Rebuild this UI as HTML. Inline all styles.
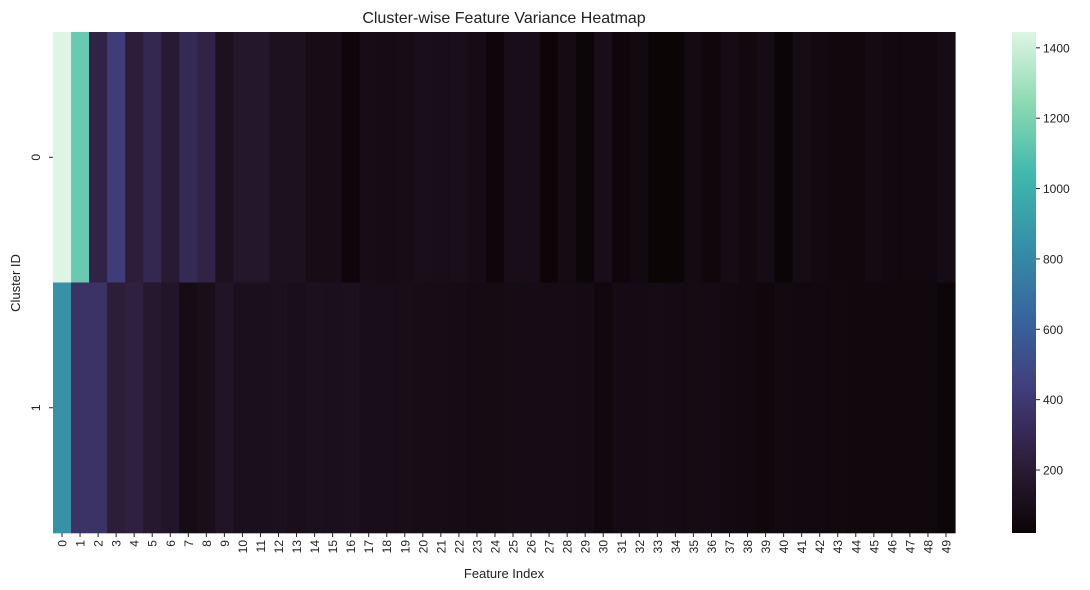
<!DOCTYPE html>
<html><head><meta charset="utf-8"><style>
html,body{margin:0;padding:0;background:#fff;}
svg{display:block;font-family:"Liberation Sans","DejaVu Sans",sans-serif;}
</style></head><body>
<svg id="chart" width="1090" height="590" viewBox="0 0 1090 590">
<defs>
<linearGradient id="cbgrad" x1="0" y1="1" x2="0" y2="0">
<stop offset="0" stop-color="#0b0405"/><stop offset="0.143" stop-color="#2e1e3b"/><stop offset="0.286" stop-color="#413d7b"/><stop offset="0.429" stop-color="#37659e"/><stop offset="0.571" stop-color="#348fa7"/><stop offset="0.714" stop-color="#40b7ad"/><stop offset="0.857" stop-color="#8bdab2"/><stop offset="1" stop-color="#def5e5"/>
</linearGradient>
</defs>
<text x="504" y="23" text-anchor="middle" font-size="16" fill="#222">Cluster-wise Feature Variance Heatmap</text>
<g id="cells"></g>
<g id="xticks"></g>
<g id="yticks"></g>
<text x="504" y="578" text-anchor="middle" font-size="13" fill="#222">Feature Index</text>
<text transform="translate(20,283) rotate(-90)" text-anchor="middle" font-size="13" fill="#222">Cluster ID</text>
<rect x="1012" y="32" width="24" height="501" fill="url(#cbgrad)"/>
<g id="cbticks"></g>
</svg>
<script>
const clusters = ["0","1"];
const features = Array.from({length:50},(_,i)=>String(i));
const row0 = [1445,1146,260,420,220,290,190,305,260,120,165,165,120,120,90,90,40,90,85,90,100,95,100,80,40,95,95,30,75,35,95,38,65,25,25,70,45,80,60,80,28,82,68,55,50,70,58,62,62,82];
const row1 = [847,360,360,215,240,180,155,85,100,150,110,110,115,100,112,108,118,95,95,95,90,88,82,78,75,82,80,82,82,78,50,76,76,80,76,73,76,66,62,48,65,58,58,60,52,52,52,52,52,35];
const values = [row0,row1];
const cbTicks = [200,400,600,800,1000,1200,1400];
const vmin = 21, vmax = 1445;

const NS="http://www.w3.org/2000/svg";
const X0=53, X1=955, Y0=32, Y1=533;
const cw=(X1-X0)/features.length, rh=(Y1-Y0)/clusters.length;
const xPos=i=>X0+i*cw, yPos=j=>Y0+j*rh;
const cbY=v=>533-(v-vmin)/(vmax-vmin)*501;
const stops=[[0,[11,4,5]],[0.143,[46,30,59]],[0.286,[65,61,123]],[0.429,[55,101,158]],[0.571,[52,143,167]],[0.714,[64,183,173]],[0.857,[139,218,178]],[1,[222,245,229]]];
function mako(v){let t=Math.max(0,Math.min(1,(v-vmin)/(vmax-vmin)));
 for(let k=1;k<stops.length;k++){if(t<=stops[k][0]){const a=stops[k-1],b=stops[k],f=(t-a[0])/(b[0]-a[0]);
 return "rgb("+a[1].map((c,i)=>Math.round(c+(b[1][i]-c)*f)).join(",")+")";}}return "rgb(222,245,229)";}
function mk(tag,attrs,parent){const e=document.createElementNS(NS,tag);for(const k in attrs)e.setAttribute(k,attrs[k]);parent.appendChild(e);return e;}
const cells=document.getElementById("cells");
values.forEach((row,j)=>row.forEach((v,i)=>{
 const r=mk("rect",{x:xPos(i),y:yPos(j),width:cw+0.6,height:rh+0.3,fill:mako(v)},cells);
 
 
}));
const xt=document.getElementById("xticks");
features.forEach((f,i)=>{const cx=xPos(i)+cw/2;
 const l=mk("line",{x1:cx,y1:533,x2:cx,y2:537,stroke:"#222","stroke-width":1},xt);
 
 
 const t=mk("text",{transform:`translate(${cx+4.5},540) rotate(-90)`,"text-anchor":"end","font-size":12,fill:"#222"},xt);
 t.textContent=f;
 
 
});
const yt=document.getElementById("yticks");
clusters.forEach((c,j)=>{const cy=yPos(j)+rh/2;
 const l=mk("line",{x1:49,y1:cy,x2:53,y2:cy,stroke:"#222","stroke-width":1},yt);
 
 
 const t=mk("text",{transform:`translate(40,${cy}) rotate(-90)`,"text-anchor":"middle","font-size":12,fill:"#222"},yt);
 t.textContent=c;
 
 
});
const cb=document.getElementById("cbticks");
cbTicks.forEach(v=>{const y=cbY(v);
 const l=mk("line",{x1:1036,y1:y,x2:1040,y2:y,stroke:"#222","stroke-width":1},cb);
 
 
 const t=mk("text",{x:1043,y:y+4.5,"font-size":12,fill:"#222"},cb);
 t.textContent=v;
 
 
});
</script>
</body></html>
